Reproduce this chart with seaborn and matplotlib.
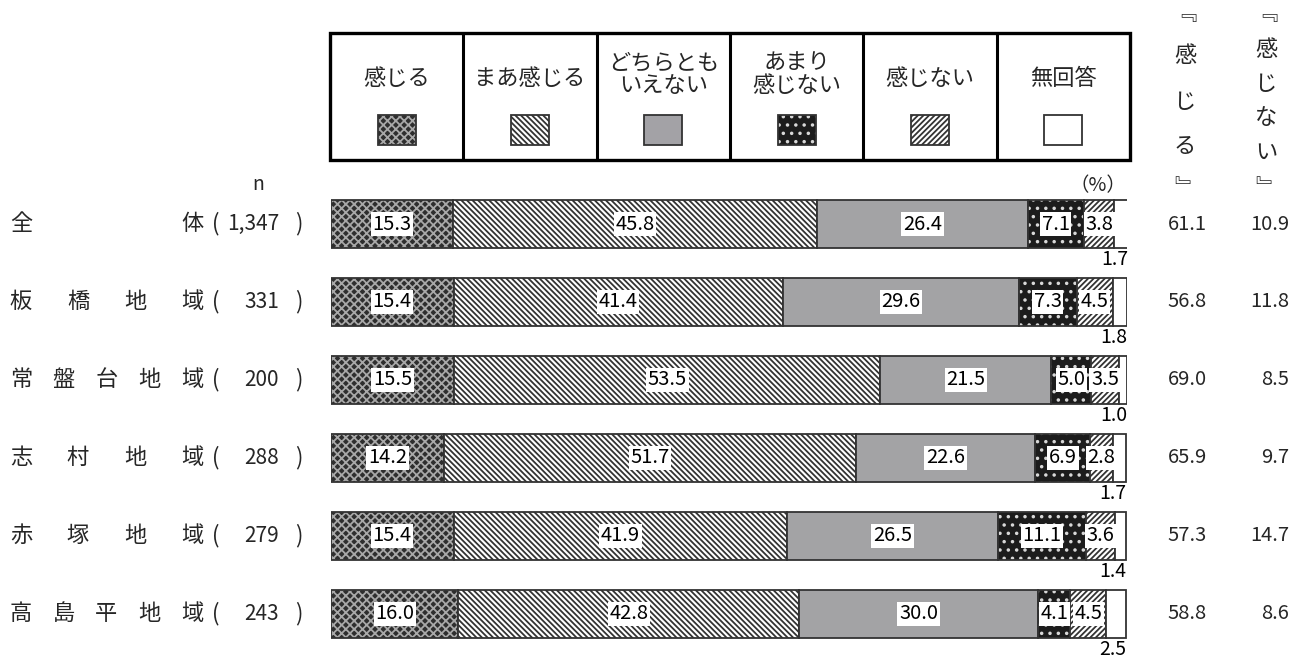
import numpy as np
import matplotlib
matplotlib.use('Agg')
import matplotlib.pyplot as plt
import seaborn as sns
from matplotlib.patches import Rectangle
from matplotlib.transforms import blended_transform_factory

W, H = 1293, 658

# data
groups = ['全体', '板橋地域', '常盤台地域', '志村地域', '赤塚地域', '高島平地域']
n_counts = ['1,347', '331', '200', '288', '279', '243']
answers = ['感じる', 'まあ感じる', 'どちらとも\nいえない', 'あまり\n感じない', '感じない', '無回答']

kanjiru = [15.3, 15.4, 15.5, 14.2, 15.4, 16.0]
maa_kanjiru = [45.8, 41.4, 53.5, 51.7, 41.9, 42.8]
dochira = [26.4, 29.6, 21.5, 22.6, 26.5, 30.0]
amari = [7.1, 7.3, 5.0, 6.9, 11.1, 4.1]
kanjinai = [3.8, 4.5, 3.5, 2.8, 3.6, 4.5]
mukaitou = [1.7, 1.8, 1.0, 1.7, 1.4, 2.5]

total_kanjiru = [61.1, 56.8, 69.0, 65.9, 57.3, 58.8]
total_kanjinai = [10.9, 11.8, 8.5, 9.7, 14.7, 8.6]

series = [kanjiru, maa_kanjiru, dochira, amari, kanjinai, mukaitou]

# (face, hatch colour, hatch)
styles = [
    ('#2e2e2e', '#a8a8a8', 'xxxx'),
    ('#ffffff', '#333333', '\\' * 6),
    ('#a3a2a6', '#a3a2a6', ''),
    ('#1c1c1c', '#d8d8d8', '..'),
    ('#ffffff', '#333333', '//////'),
    ('#ffffff', '#ffffff', ''),
]

sns.set_style('white')
plt.rcParams['font.family'] = ['Noto Sans CJK JP', 'DejaVu Sans']
plt.rcParams['hatch.linewidth'] = 1.3

fig = plt.figure(figsize=(W / 100, H / 100), dpi=100)


def fx(x):
    return x / W


def fy(y):
    return 1 - y / H


# main bar axes: row centres at y=224 ... 613.7 px
row_px = 77.94
top_px = 224 - row_px / 2
bot_px = 613.7 + row_px / 2
ax = fig.add_axes([fx(331), fy(bot_px), 796 / W, (bot_px - top_px) / H])

bar_w = 48 / row_px
lefts = np.zeros(len(groups))
for vals, (face, hcol, hatch) in zip(series, styles):
    sns.barplot(x=vals, y=groups, orient='y', left=lefts, color=face,
                width=bar_w, errorbar=None, ax=ax, linewidth=0)
    for p in ax.containers[-1]:
        p.set_edgecolor(hcol)
        p.set_hatch(hatch)
        p.set_linewidth(0)
    sns.barplot(x=vals, y=groups, orient='y', left=lefts, color='#333333',
                width=bar_w, errorbar=None, ax=ax, fill=False, linewidth=1.3)
    lefts = lefts + np.array(vals)

# value labels
lefts = np.zeros(len(groups))
for k, vals in enumerate(series):
    for i, v in enumerate(vals):
        if k < 5:
            ax.text(lefts[i] + v / 2, i, '{:.1f}'.format(v), ha='center', va='center',
                    fontsize=14.5, color='black', zorder=5,
                    bbox=dict(boxstyle='square,pad=0.08', fc='white', ec='none'))
        else:
            ax.text(lefts[i] + v, i + 0.455, '{:.1f}'.format(v), ha='right', va='center',
                    fontsize=14, color='black')
    lefts = lefts + np.array(vals)

ax.set_xlim(0, 100)
ax.set_ylim(len(groups) - 0.5, -0.5)
ax.axis('off')

# row labels at the left and totals at the right
tr = blended_transform_factory(fig.transFigure, ax.transData)
for i, (g, n) in enumerate(zip(groups, n_counts)):
    chars = list(g)
    m = len(chars)
    for j, c in enumerate(chars):
        cx = 21 + j * 171 / (m - 1)
        ax.text(fx(cx), i, c, transform=tr, ha='center', va='center', fontsize=16)
    ax.text(fx(216), i, '(', transform=tr, ha='center', va='center', fontsize=16)
    ax.text(fx(279), i, n, transform=tr, ha='right', va='center', fontsize=15)
    ax.text(fx(299), i, ')', transform=tr, ha='center', va='center', fontsize=16)
    ax.text(fx(1207), i, '{:.1f}'.format(total_kanjiru[i]), transform=tr,
            ha='right', va='center', fontsize=14.5)
    ax.text(fx(1289), i, '{:.1f}'.format(total_kanjinai[i]), transform=tr,
            ha='right', va='center', fontsize=14.5)

fig.text(fx(258), fy(185), 'n', ha='center', va='center', fontsize=14)
fig.text(fx(1126), fy(186), '（%）', ha='right', va='center', fontsize=14)

# vertical column headers
for c, y in zip(['\ufe43', '感', 'じ', 'る', '\ufe44'], [14, 56, 101, 146, 188]):
    fig.text(fx(1185), fy(y), c, ha='center', va='center', fontsize=16)
for c, y in zip(['\ufe43', '感', 'じ', 'な', 'い', '\ufe44'], [14, 50, 84, 118, 152, 188]):
    fig.text(fx(1266), fy(y), c, ha='center', va='center', fontsize=16)

# legend table
lax = fig.add_axes([fx(330), fy(160), 800 / W, 127 / H])
lax.set_xlim(0, 6)
lax.set_ylim(0, 1)
lax.axis('off')
lax.add_patch(Rectangle((0, 0), 6, 1, fill=False, ec='black', lw=2.4, clip_on=False))
for k in range(1, 6):
    lax.plot([k, k], [0, 1], color='black', lw=2.2, clip_on=False)
sw, sh = 38 / 133.3, 30 / 127
for k, (lab, (face, hcol, hatch)) in enumerate(zip(answers, styles)):
    ly = 0.645 if '\n' not in lab else 0.675
    lax.text(k + 0.5, ly, lab, ha='center', va='center', fontsize=16, linespacing=1.0)
    lax.add_patch(Rectangle((k + 0.5 - sw / 2, 0.236 - sh / 2), sw, sh, fc=face,
                            ec=hcol, hatch=hatch, lw=0))
    lax.add_patch(Rectangle((k + 0.5 - sw / 2, 0.236 - sh / 2), sw, sh, fill=False,
                            ec='#333333', lw=1.3))

fig.savefig('out.png', dpi=100)
